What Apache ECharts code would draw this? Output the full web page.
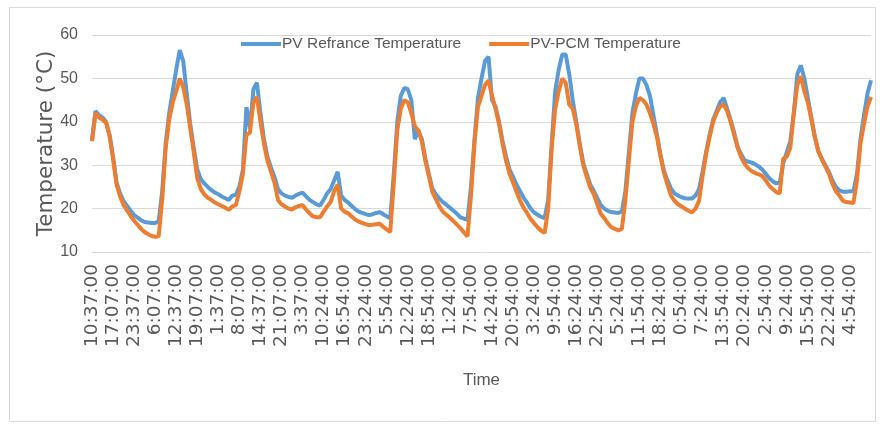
<!DOCTYPE html>
<html>
<head>
<meta charset="utf-8">
<script src="https://cdn.jsdelivr.net/npm/echarts@6/dist/echarts.min.js"></script>
<style>
html,body{margin:0;padding:0;background:#fff;}
#main{width:880px;height:427px;}
</style>
</head>
<body>
<div id="main"></div>
<script>
// Tick labels shown along the time axis (one every 6 samples)
const tickLabels = ["10:37:00","17:07:00","23:37:00","6:07:00","12:37:00","19:07:00","1:37:00","8:07:00","14:37:00","21:07:00","3:37:00","10:24:00","16:54:00","23:24:00","5:54:00","12:24:00","18:54:00","1:24:00","7:54:00","14:24:00","20:54:00","3:24:00","9:54:00","16:24:00","22:54:00","5:24:00","11:54:00","18:24:00","0:54:00","7:24:00","13:54:00","20:24:00","2:54:00","9:24:00","15:54:00","22:24:00","4:54:00"];
const samplesPerTick = 6;

// PV reference temperature (°C)
const pvRef = [35.8,42.5,41.5,41,40,37,32,26,23.5,21.7,20.6,19.5,18.5,17.9,17.3,16.9,16.8,16.7,16.7,17,
24,35,42,47,52,56.5,54,46.5,39.5,34,29,26.8,25.8,25,24.3,23.7,23.3,22.8,22.4,22,
23,23.2,25,29,43.4,38.5,47.5,49,42,36,31.9,29.5,27.3,24.5,23.5,23,22.7,22.5,23,23.4,
23.7,22.8,22,21.5,21,20.7,22,23.5,24.5,26.5,28.5,23,22,21.4,20.6,19.9,19.3,19,18.7,18.5,
18.7,19,19.2,18.7,18.2,17.8,28,40,46,47.8,47.5,45,36,38,36,31.5,28,24.6,23.3,22.3,
21.5,20.9,20.2,19.5,18.8,18,17.7,17.4,25,36,45.5,50,54,55,45,43.5,40,35.5,32,29,
27.3,25.5,24,22.5,21.3,20,19.1,18.6,18.1,17.8,22,35,47,52,55.5,55.5,51,45,40,35,
30.5,28,25.5,24.1,22.4,20.8,20,19.5,19.2,19.1,19,19.3,24,33,42,46.5,50,50,48.5,46,
41.5,37,32.5,28.7,26.5,24.6,23.5,23,22.6,22.4,22.3,22.3,23,24.5,28.5,33,37,40.5,42.5,44.5,
45.5,43,40.4,37.5,34.2,32.5,31.1,30.8,30.6,30.2,29.7,29,28,27,26.3,25.8,26,30.5,33,35.5,
42,51,53,50,45.5,41,36.5,33.2,31.5,30,28.5,26.5,25,24.2,23.9,23.9,24,24,28,36,
41.5,46.5,49.6];

// PV-PCM temperature (°C)
const pvPcm = [35.5,42,41,40.5,39.8,36.8,31.5,25.5,22.8,20.8,19.6,18.3,17.2,16.3,15.3,14.6,14.1,13.7,13.5,13.6,
22,34,40.5,44.5,47,50,48,44,38.5,33,27,24.5,23.3,22.5,22,21.4,21,20.6,20.2,19.7,
20.5,20.8,24,28,37,37.5,44.5,45.7,40,35,31,28.5,26,22,21,20.5,20,19.8,20.3,20.6,
20.8,19.8,18.9,18.2,18,18,19.3,20.5,21.5,24,25.5,20,19.3,18.9,18.2,17.5,17,16.7,16.4,16.2,
16.3,16.4,16.5,15.8,15.2,14.6,26,38,43,45,44.5,42,39,38,35.5,31,27.5,23.8,22.2,20.5,
19.3,18.6,17.9,17.1,16.3,15.5,14.5,13.6,23,35,43.5,46,48.5,49.5,46,43,39.5,35,31,28,
26,23.8,21.8,20.2,19,17.6,16.6,15.7,14.9,14.4,20,34,43,47,50,49,44,43,39.5,34.5,
30,27.3,24.8,23.3,21,18.8,17.8,16.6,15.7,15.3,15,15.3,22,31,40,43.5,45.5,45,44,42,
39.5,36.5,32,28.2,25.5,23,21.8,21,20.5,20,19.5,19.1,20,21.8,27.5,32.5,36.5,40,42,43.5,
44,42.5,40,37,34,31.8,30.3,29.3,28.6,28.2,27.9,27.5,26.5,25.3,24.5,23.8,23.5,31.5,32,34,
42,48.5,50.5,47,44.5,40.5,36.5,33.2,31.3,29.7,28,25.7,24,23,21.8,21.5,21.4,21.3,26.5,35,
39.5,43.5,45.7];

const seriesNames = ["PV Refrance Temperature","PV-PCM Temperature"];
const yTicks = {min:10, max:60, step:10};

const categories = pvRef.map((_, i) => (i % samplesPerTick === 0 && tickLabels[i / samplesPerTick] !== undefined) ? tickLabels[i / samplesPerTick] : "");

const sans = "'Liberation Sans',Arial,sans-serif";
const gray = "#595959";

const chart = echarts.init(document.getElementById('main'), null, {renderer:'canvas'});
chart.setOption({
  backgroundColor:'#ffffff',
  animation:false,
  graphic:[{type:'rect', left:7, top:5, shape:{width:866, height:414}, style:{fill:'none', stroke:'#d9d9d9', lineWidth:1}, silent:true}],
  legend:{
    left:236, top:31, icon:'rect', itemWidth:40, itemHeight:4, itemGap:28,
    textStyle:{fontFamily:sans, fontSize:15.5, color:gray, padding:[0,0,0,-4]},
    data:seriesNames
  },
  grid:{left:92, top:35, width:779, height:217, containLabel:false},
  xAxis:{
    type:'category', data:categories, boundaryGap:false,
    axisLine:{show:true, lineStyle:{color:'#d9d9d9', width:1}},
    axisTick:{show:false},
    axisLabel:{interval:samplesPerTick-1, rotate:90, margin:12, fontFamily:"'DejaVu Sans',sans-serif", fontSize:18.5, color:gray},
    name:'Time', nameLocation:'middle', nameGap:120, nameMoveOverlap:false,
    nameTextStyle:{fontFamily:sans, fontSize:17, color:gray}
  },
  yAxis:{
    type:'value', min:yTicks.min, max:yTicks.max, interval:yTicks.step,
    axisLine:{show:false}, axisTick:{show:false},
    splitLine:{lineStyle:{color:'#d9d9d9', width:1}},
    axisLabel:{margin:14, fontFamily:sans, fontSize:16, color:gray},
    name:'Temperature (°C)', nameLocation:'middle', nameGap:35, nameRotate:90, nameMoveOverlap:false,
    nameTextStyle:{fontFamily:"'DejaVu Sans',sans-serif", fontSize:21.5, color:gray}
  },
  series:[
    {name:seriesNames[0], type:'line', data:pvRef, symbol:'none', lineStyle:{color:'#5B9BD5', width:4}, itemStyle:{color:'#5B9BD5'}},
    {name:seriesNames[1], type:'line', data:pvPcm, symbol:'none', lineStyle:{color:'#ED7D31', width:4}, itemStyle:{color:'#ED7D31'}}
  ]
});
</script>
</body>
</html>
